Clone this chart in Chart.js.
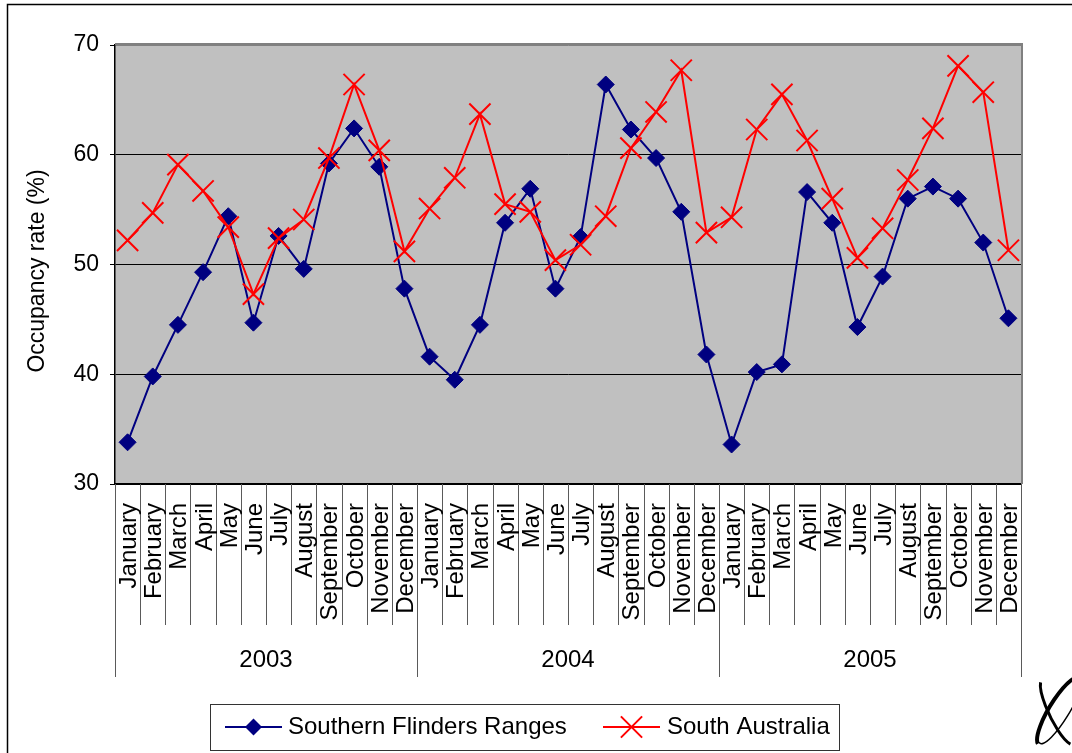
<!DOCTYPE html>
<html>
<head>
<meta charset="utf-8">
<script src="https://cdn.jsdelivr.net/npm/chart.js@4/dist/chart.umd.min.js"></script>
<style>
    html, body { margin: 0; padding: 0; background: #fff; }
    canvas { display: block; }
</style>
</head>
<body>
<canvas id="occupancy" width="1072" height="753"></canvas>
<script>
const months = ['January', 'February', 'March', 'April', 'May', 'June',
    'July', 'August', 'September', 'October', 'November', 'December'];
const years = ['2003', '2004', '2005'];
const labels = years.flatMap(y => months.map(m => m + ' ' + y));

// monthly occupancy rate (%)
const southernFlinders = [
    33.8, 39.8, 44.5, 49.3, 54.4, 44.7, 52.6, 49.6, 59.2, 62.4, 58.9, 47.8,
    41.6, 39.5, 44.5, 53.8, 56.9, 47.8, 52.5, 66.4, 62.3, 59.7, 54.8, 41.8,
    33.6, 40.2, 40.9, 56.6, 53.8, 44.3, 48.9, 56.0, 57.1, 56.0, 52.0, 45.1
];
const southAustralia = [
    52.2, 54.7, 59.1, 56.7, 53.4, 47.3, 52.4, 54.1, 59.7, 66.4, 60.4, 51.2,
    55.1, 57.9, 63.7, 55.5, 54.8, 50.4, 51.8, 54.4, 60.6, 63.9, 67.7, 52.9,
    54.3, 62.3, 65.5, 61.3, 56.0, 50.6, 53.3, 57.7, 62.4, 68.1, 65.7, 51.3
];

const FONT = '"Liberation Sans", Arial, sans-serif';

function diamond(ctx, x, y, r) {
    ctx.beginPath();
    ctx.moveTo(x, y - r);
    ctx.lineTo(x + r, y);
    ctx.lineTo(x, y + r);
    ctx.lineTo(x - r, y);
    ctx.closePath();
    ctx.fill();
}

function crossMark(ctx, x, y, r) {
    const d = r * Math.SQRT1_2;
    ctx.beginPath();
    ctx.moveTo(x - d, y - d);
    ctx.lineTo(x + d, y + d);
    ctx.moveTo(x + d, y - d);
    ctx.lineTo(x - d, y + d);
    ctx.stroke();
}

// grey plot area, two-level month/year axis, y title, boxed legend
const excelLook = {
    id: 'excelLook',
    beforeDraw(chart) {
        const {ctx, chartArea} = chart;
        ctx.save();
        ctx.fillStyle = '#fff';
        ctx.fillRect(0, 0, chart.width, chart.height);
        ctx.fillStyle = '#c0c0c0';
        ctx.fillRect(chartArea.left, chartArea.top, chartArea.right - chartArea.left, chartArea.bottom - chartArea.top);
        ctx.restore();
    },
    afterDraw(chart) {
        const {ctx, chartArea, scales} = chart;
        const {left, right, top, bottom} = chartArea;
        const xs = scales.x;
        const step = (right - left) / labels.length;
        ctx.save();

        // plot frame on top and right
        ctx.strokeStyle = '#808080';
        ctx.lineWidth = 2;
        ctx.beginPath();
        ctx.moveTo(left, top - 1);
        ctx.lineTo(right + 1, top - 1);
        ctx.lineTo(right + 1, bottom);
        ctx.stroke();

        // category separators
        ctx.strokeStyle = '#5a5a5a';
        ctx.lineWidth = 1;
        for (let i = 0; i <= labels.length; i++) {
            const x = Math.round(xs.getPixelForValue(Math.min(i, labels.length - 1)) + (i === labels.length ? step / 2 : -step / 2)) + 0.5;
            const yearEdge = i % months.length === 0;
            ctx.beginPath();
            ctx.moveTo(x, bottom);
            ctx.lineTo(x, yearEdge ? 677 : 625);
            ctx.stroke();
        }

        // month names, rotated
        ctx.fillStyle = '#000';
        ctx.font = '24px ' + FONT;
        ctx.textAlign = 'right';
        ctx.textBaseline = 'alphabetic';
        labels.forEach((lab, i) => {
            const cx = xs.getPixelForValue(i);
            ctx.save();
            ctx.translate(cx + 8.5, bottom + 19);
            ctx.rotate(-Math.PI / 2);
            ctx.fillText(months[i % months.length], 0, 0);
            ctx.restore();
        });

        // year names
        ctx.textAlign = 'center';
        years.forEach((yr, k) => {
            const a = xs.getPixelForValue(k * months.length);
            const b = xs.getPixelForValue(k * months.length + months.length - 1);
            ctx.fillText(yr, (a + b) / 2, 667);
        });

        // y axis title
        ctx.save();
        ctx.font = '23px ' + FONT;
        ctx.translate(38, 271);
        ctx.rotate(-Math.PI / 2);
        ctx.textBaseline = 'middle';
        ctx.fillText('Occupancy rate (%)', 0, 0);
        ctx.restore();

        // legend
        const sets = chart.data.datasets;
        ctx.fillStyle = '#fff';
        ctx.fillRect(210, 704, 629, 46);
        ctx.strokeStyle = '#333';
        ctx.lineWidth = 1;
        ctx.strokeRect(210.5, 704.5, 629, 46);
        const ly = 727;
        ctx.font = '24px ' + FONT;
        ctx.textAlign = 'left';
        ctx.textBaseline = 'middle';

        ctx.strokeStyle = sets[0].borderColor;
        ctx.fillStyle = sets[0].borderColor;
        ctx.lineWidth = 2;
        ctx.beginPath();
        ctx.moveTo(225, ly);
        ctx.lineTo(282, ly);
        ctx.stroke();
        diamond(ctx, 253.5, ly, 8.5);
        ctx.fillStyle = '#000';
        ctx.fillText(sets[0].label, 288, ly);

        ctx.strokeStyle = sets[1].borderColor;
        ctx.beginPath();
        ctx.moveTo(603, ly);
        ctx.lineTo(660, ly);
        ctx.stroke();
        crossMark(ctx, 631.5, ly, 15);
        ctx.fillStyle = '#000';
        ctx.fillText(sets[1].label, 667, ly);

        // outer chart border
        ctx.strokeStyle = '#000';
        ctx.lineWidth = 1.5;
        ctx.strokeRect(7.5, 4.5, chart.width, chart.height);

        // corner emblem
        ctx.strokeStyle = '#000';
        ctx.lineWidth = 4;
        ctx.beginPath();
        ctx.ellipse(1060, 711, 11, 40, 0.55, Math.PI * 0.55, Math.PI * 1.75);
        ctx.stroke();
        ctx.lineWidth = 1.5;
        ctx.beginPath();
        ctx.ellipse(1060, 711, 9, 38, 0.55, Math.PI * 1.75, Math.PI * 2.55);
        ctx.stroke();
        ctx.lineWidth = 3;
        ctx.beginPath();
        ctx.ellipse(1058, 712, 9, 36, -0.45, Math.PI * 0.6, Math.PI * 1.4);
        ctx.stroke();

        ctx.restore();
    }
};

const config = {
    type: 'line',
    data: {
        labels,
        datasets: [
            {
                label: 'Southern Flinders Ranges',
                data: southernFlinders,
                borderColor: '#000080',
                backgroundColor: '#000080',
                borderWidth: 2,
                pointStyle: 'rectRot',
                pointRadius: 8.5,
                pointBorderWidth: 1,
                tension: 0,
                order: 1,
            },
            {
                label: 'South Australia',
                data: southAustralia,
                borderColor: '#ff0000',
                backgroundColor: '#ff0000',
                borderWidth: 2,
                pointStyle: 'crossRot',
                pointRadius: 15,
                pointBorderWidth: 2,
                tension: 0,
                order: 0,
            },
        ]
    },
    options: {
        responsive: false,
        animation: false,
        layout: {padding: {top: 45, right: 51, left: 0, bottom: 0}},
        plugins: {
            legend: {display: false},
            tooltip: {enabled: false},
        },
        scales: {
            x: {
                offset: true,
                grid: {display: false},
                ticks: {display: false},
                border: {color: '#000', width: 1.5},
                afterFit: s => { s.height = 269; },
            },
            y: {
                min: 30,
                max: 70,
                ticks: {stepSize: 10, color: '#000', padding: 11, font: {family: FONT, size: 23}},
                grid: {
                    color: c => c.tick && c.tick.value === 70 ? '#808080' : '#000',
                    lineWidth: 1,
                    tickLength: 5,
                    tickColor: '#000',
                },
                border: {color: '#000', width: 1.5},
                afterFit: s => { s.width = 115; },
            },
        }
    },
    plugins: [excelLook]
};

new Chart(document.getElementById('occupancy'), config);
</script>
</body>
</html>
